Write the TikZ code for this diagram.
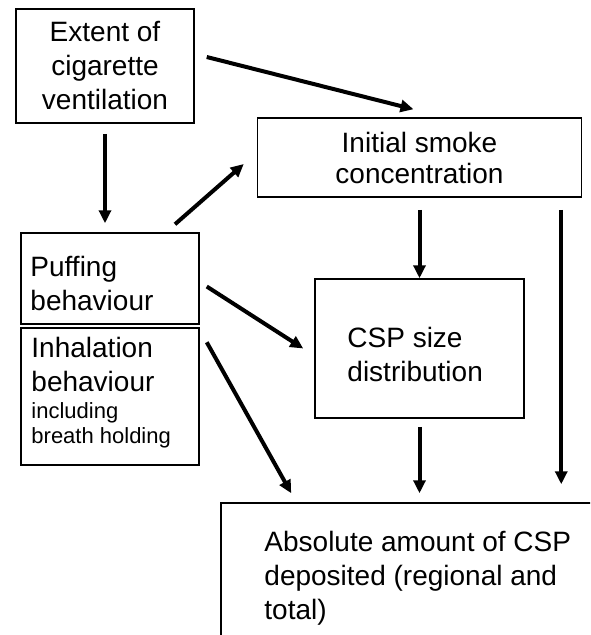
\documentclass[tikz,border=0pt]{standalone}
\usepackage{fontspec}
\setmainfont{Liberation Sans}
\usetikzlibrary{arrows.meta}

\begin{document}
\begin{tikzpicture}[x=1pt, y=-1pt,
    box/.style={draw, line width=1.5pt, inner sep=0pt},
    arr/.style={line width=4pt, -{Triangle[length=13pt, width=12pt]}},
    txt/.style={inner sep=0pt, align=left, font=\fontsize{28}{34}\selectfont},
    smalltxt/.style={inner sep=0pt, align=left, font=\fontsize{22}{25}\selectfont}]

        % (x, y) in pixels, y runs downwards
        \useasboundingbox (0, 0) rectangle (590, 635);
        \clip (0, 0) rectangle (590, 635);

        % boxes
        \node[box, txt, align=center, minimum width=178pt, minimum height=114pt] (ext) at (105, 66) {Extent of\\cigarette\\ventilation};
        \node[box, txt, align=center, font=\fontsize{28}{31}\selectfont, minimum width=324pt, minimum height=79pt] (init) at (419.5, 157.5) {Initial smoke\\concentration};
        \node[box, minimum width=178pt, minimum height=91pt] (puff) at (110, 278.5) {};
        \node[box, minimum width=178pt, minimum height=137pt] (inh) at (110, 396.5) {};
        \node[box, minimum width=209pt, minimum height=139pt] (csp) at (419.5, 348.5) {};
        \node[box, minimum width=400pt, minimum height=180pt] (abs) at (421, 593) {};

        % texts set to the left
        \node[txt, anchor=north west] (puffT) at ([xshift=10pt, yshift=-24pt]puff.north west) {Puffing\\behaviour};
        \node[txt, anchor=north west] (inhT) at ([xshift=11pt, yshift=-9.5pt]inh.north west) {Inhalation\\behaviour};
        \node[smalltxt, anchor=north west] (inhS) at ([xshift=11pt, yshift=-75pt]inh.north west) {including\\breath holding};
        \node[txt, anchor=north west] (cspT) at ([xshift=33pt, yshift=-48.5pt]csp.north west) {CSP size\\distribution};
        \node[txt, anchor=north west] (absT) at ([xshift=44pt, yshift=-28.5pt]abs.north west) {Absolute amount of CSP\\deposited (regional and\\total)};

        % arrows
        \draw[arr] ([xshift=12pt, yshift=9pt]ext.east) -- ([xshift=-6pt, yshift=8pt]init.north);
        \draw[arr] ([yshift=-10pt]ext.south) -- ([xshift=-5pt, yshift=9pt]puff.north);
        \draw[arr] ([xshift=65pt, yshift=8pt]puff.north) -- ([xshift=-13pt, yshift=-6.5pt]init.west);
        \draw[arr] ([yshift=-12pt]init.south) -- (csp.north);
        \coordinate (rtop) at ([xshift=-21pt, yshift=-12pt]init.south east);
        \draw[arr, shorten >=18pt] (rtop) -- (rtop |- abs.north);
        \draw[arr] ([xshift=7pt, yshift=-8pt]puff.east) -- ([xshift=-11pt]csp.west);
        \draw[arr] ([xshift=7pt, yshift=-15pt]inh.north east) -- ([xshift=71pt, yshift=9pt]abs.north west);
        \draw[arr, shorten >=9pt] ([yshift=-8pt]csp.south) -- (csp.south |- abs.north);

    \end{tikzpicture}
\end{document}
